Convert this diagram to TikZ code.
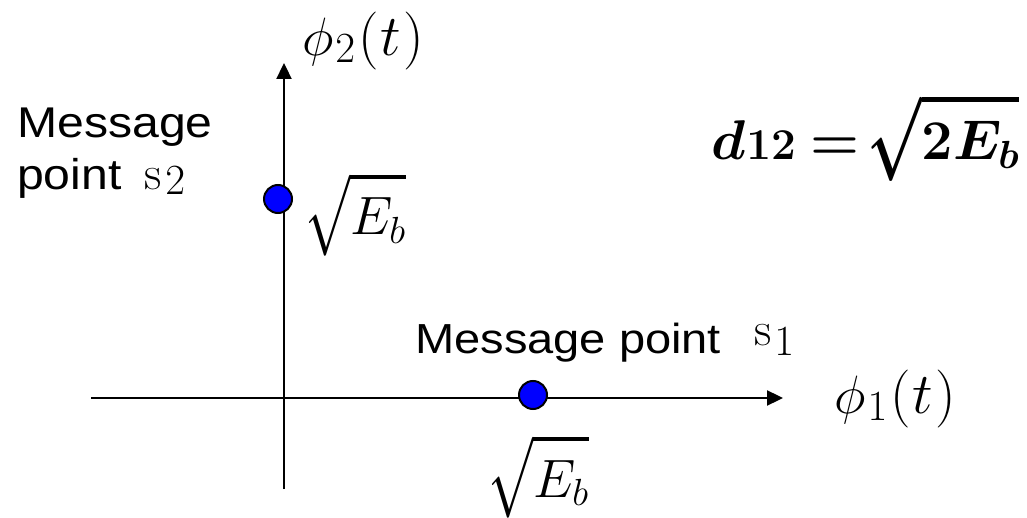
\RequirePackage{fix-cm}
\documentclass[tikz,border=0pt]{standalone}
\usepackage{amsmath}
\usepackage[no-math]{fontspec}
\setmainfont{Liberation Sans}
\usetikzlibrary{arrows.meta}
\newsavebox{\sqcontent}
\newcommand{\dig}[2]{\raisebox{#1}{\fontsize{43}{46}\selectfont$\mathrm{#2}$}}
\newcommand{\phil}[1]{$\phi$\kern2pt\dig{-7pt}{#1}\kern3pt{\fontsize{58}{62}\selectfont$(\kern2pt t\kern2pt)$}}
\newcommand{\tallsqrt}[1]{\savebox{\sqcontent}{$#1$}\raisebox{-5pt}{\scalebox{1}[1.5]{$\sqrt{\phantom{#1}}$}}\llap{\usebox{\sqcontent}}}
\newcommand{\wide}[1]{\scalebox{1.12}[1]{#1}}
\tikzset{
  axis/.style={line width=2.3pt,-{Triangle[length=16pt,width=15pt]}},
  dot/.style={circle,draw=black,line width=2pt,fill=blue,minimum size=28pt,inner sep=0pt},
  txt/.style={font=\fontsize{43}{48}\selectfont,inner sep=0pt},
  mth/.style={font=\fontsize{54}{60}\selectfont,inner sep=0pt},
  bmth/.style={font=\fontsize{56}{60}\selectfont\mathversion{bold},inner sep=0pt}
}
\begin{document}
\begin{tikzpicture}[x=1pt,y=-1pt]
\useasboundingbox (0,0) rectangle (1027,518);
\coordinate (xs) at (91,398);
\coordinate (xe) at (783,398);
\coordinate (ys) at (284,489);
\coordinate (ye) at (284,63);
\draw[axis] (xs) -- (xe);
\draw[axis] (ys) -- (ye);
\node[dot] (p2) at (278,199) {};
\node[dot] (p1) at (533,395) {};
\node[mth,anchor=base west] (phi2) at (302,56) {\phil{2}};
\node[mth,anchor=base west] (phi1) at (834,413) {\phil{1}};
\node[txt,anchor=base west] (m2a) at (17,138) {\wide{Message}};
\node[txt,anchor=base west] (m2b) at (17,190) {\wide{point}};
\node[anchor=base west,inner sep=0pt] (s2) at (144,190) {{\fontsize{48}{50}\selectfont$\mathrm{s}$}\kern4pt\dig{-5pt}{2}};
\node[txt,anchor=base west,font=\fontsize{42}{48}\selectfont] (m1) at (415,353) {\wide{Message point}};
\node[anchor=base west,inner sep=0pt] (s1) at (754,345) {{\fontsize{48}{50}\selectfont$\mathrm{s}$}\kern3pt\dig{-10pt}{1}};
\node[mth,anchor=base west] (e2) at (305,235) {\tallsqrt{E_b}};
\node[mth,anchor=base west] (e1) at (488,497) {\tallsqrt{E_b}};
\node[bmth,anchor=base west] (dd) at (711,160) {$d$\kern1pt{\fontsize{44}{46}\selectfont$\mathbf{12}$}\kern15pt$=$\kern8pt\tallsqrt{2E_b}};
\end{tikzpicture}
\end{document}
